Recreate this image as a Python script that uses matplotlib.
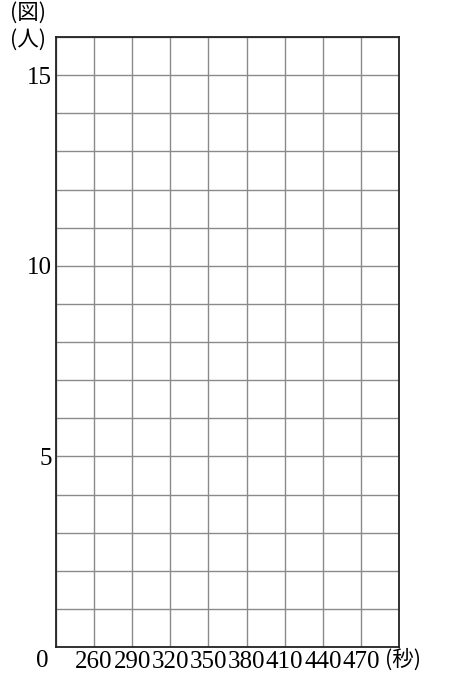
import numpy as np
from matplotlib import pyplot as plt

plt.rcParams['font.family'] = ['Liberation Serif', 'Noto Sans CJK JP', 'DejaVu Sans']

# grid and tick values
x_grid = list(range(230, 501, 30))
x_labels = [260, 290, 320, 350, 380, 410, 440, 470]
y_grid = list(range(0, 17))
y_labels = [5, 10, 15]

fig = plt.figure(figsize=(4.62, 6.73), dpi=100)
ax = fig.add_axes([56/462, 26/673, 343/462, 610/673])

ax.set_xlim(230, 500)
ax.set_ylim(0, 16)

#grid lines
for x in x_grid:
    ax.axvline(x, color='#8a8a8a', lw=1.0, zorder=1)
for y in y_grid:
    ax.axhline(y, color='#8a8a8a', lw=1.0, zorder=1)

for s in ax.spines.values():
    s.set_color('#222222')
    s.set_linewidth(1.3)
    s.set_zorder(3)

ax.set_xticks(x_labels)
ax.set_xticklabels([str(v) for v in x_labels], fontsize=18)
ax.set_yticks(y_labels)
ax.set_yticklabels([str(v) for v in y_labels], fontsize=18)
ax.tick_params(length=0, pad=3)

#extra labels
cjk = ['Noto Sans CJK JP', 'DejaVu Sans']
fig.text(42/462, 1 - 661/673, '0', fontsize=18, ha='center', va='center')
fig.text(403/462, 1 - 660/673, '(秒)', fontsize=15.5, ha='center', va='center', family=cjk)
fig.text(28/462, 1 - 13/673, '(図)', fontsize=15.5, ha='center', va='center', family=cjk)
fig.text(28/462, 1 - 40/673, '(人)', fontsize=15.5, ha='center', va='center', family=cjk)

plt.savefig('out.png', dpi=100)
